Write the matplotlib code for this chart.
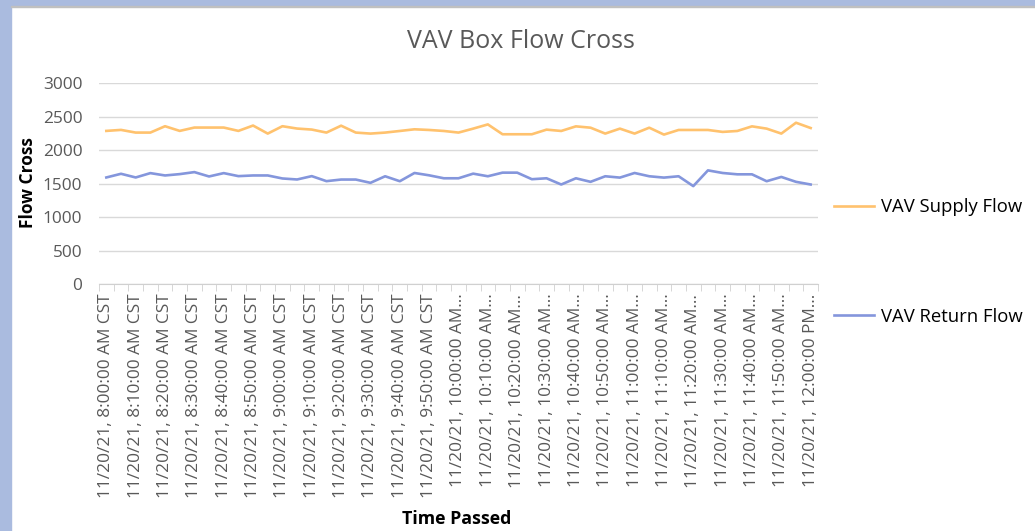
import numpy as np
import matplotlib.pyplot as plt
from matplotlib.patches import Rectangle

# readings every 5 minutes, 8:00 AM to 12:00 PM
supply_flow = [2285, 2300, 2260, 2260, 2355, 2285, 2335, 2335, 2335, 2285,
               2365, 2245, 2355, 2320, 2305, 2260, 2363, 2260, 2245, 2260,
               2284, 2309, 2299, 2284, 2260, 2319, 2382, 2235, 2235, 2235,
               2304, 2284, 2353, 2333, 2245, 2319, 2245, 2333, 2230, 2299,
               2299, 2299, 2270, 2284, 2353, 2319, 2245, 2407, 2328]
return_flow = [1590, 1645, 1590, 1655, 1620, 1640, 1670, 1605, 1655, 1610,
               1620, 1620, 1575, 1560, 1610, 1535, 1559, 1559, 1510, 1608,
               1534, 1657, 1622, 1578, 1578, 1647, 1608, 1662, 1662, 1564,
               1578, 1485, 1578, 1525, 1608, 1588, 1657, 1608, 1588, 1608,
               1461, 1696, 1657, 1637, 1637, 1534, 1598, 1525, 1485]

tick_labels = ['11/20/21, 8:00:00 AM CST', '11/20/21, 8:10:00 AM CST',
               '11/20/21, 8:20:00 AM CST', '11/20/21, 8:30:00 AM CST',
               '11/20/21, 8:40:00 AM CST', '11/20/21, 8:50:00 AM CST',
               '11/20/21, 9:00:00 AM CST', '11/20/21, 9:10:00 AM CST',
               '11/20/21, 9:20:00 AM CST', '11/20/21, 9:30:00 AM CST',
               '11/20/21, 9:40:00 AM CST', '11/20/21, 9:50:00 AM CST',
               '11/20/21, 10:00:00 AM...', '11/20/21, 10:10:00 AM...',
               '11/20/21, 10:20:00 AM...', '11/20/21, 10:30:00 AM...',
               '11/20/21, 10:40:00 AM...', '11/20/21, 10:50:00 AM...',
               '11/20/21, 11:00:00 AM...', '11/20/21, 11:10:00 AM...',
               '11/20/21, 11:20:00 AM...', '11/20/21, 11:30:00 AM...',
               '11/20/21, 11:40:00 AM...', '11/20/21, 11:50:00 AM...',
               '11/20/21, 12:00:00 PM...']

plt.rcParams['font.family'] = ['Open Sans', 'DejaVu Sans']

fig = plt.figure(figsize=(10.35, 5.31), dpi=100)
fig.patch.set_facecolor('white')
# light blue frame on the left and top
fig.add_artist(Rectangle((0, 0), 11 / 1035, 1, transform=fig.transFigure,
                         color='#aabbdf', zorder=0))
fig.add_artist(Rectangle((0, 1 - 6 / 531), 1, 6 / 531, transform=fig.transFigure,
                         color='#aabbdf', zorder=0))
fig.add_artist(Rectangle((11 / 1035, 1 - 7 / 531), 1, 1 / 531, transform=fig.transFigure,
                         color='#c0c0c0', zorder=0))

ax = fig.add_axes([99 / 1035, 1 - 284 / 531, (818 - 99) / 1035, (284 - 83) / 531])

x = np.arange(len(supply_flow))
ax.plot(x, supply_flow, color='#ffc26e', lw=1.9, label='VAV Supply Flow')
ax.plot(x, return_flow, color='#8496dc', lw=1.9, label='VAV Return Flow')

ax.set_xlim(-0.5, len(x) - 0.5)
ax.set_ylim(0, 3000)
ax.set_yticks(np.arange(0, 3001, 500))
ax.yaxis.grid(True, color='#d9d9d9', lw=1)
ax.set_axisbelow(True)
for s in ['top', 'right', 'left']:
    ax.spines[s].set_visible(False)
ax.spines['bottom'].set_color('#d0d0d0')

ax.set_xticks(x[::2])
ax.set_xticklabels(tick_labels, rotation=90)
ax.set_xticks(np.arange(len(x) + 1) - 0.5, minor=True)
ax.tick_params(axis='x', which='major', length=0, pad=7, labelsize=12.4, labelcolor='#595959')
ax.tick_params(axis='x', which='minor', length=5, color='#d0d0d0')
ax.tick_params(axis='y', length=0, pad=12, labelsize=12.4, labelcolor='#595959')

ax.set_ylabel('Flow Cross', fontsize=12.5, fontweight='bold')
ax.yaxis.set_label_coords(37 / 1035, 1 - 183 / 531, transform=fig.transFigure)
fig.text(457 / 1035, 1 - 519 / 531, 'Time Passed', ha='center', va='center',
         fontsize=12.8, fontweight='bold')
fig.text(521 / 1035, 1 - 42 / 531, 'VAV Box Flow Cross', ha='center', va='center',
         fontsize=18, color='#595959')

ax.legend(loc='center left', bbox_to_anchor=(817 / 1035, 1 - 262 / 531),
          bbox_transform=fig.transFigure, frameon=False, fontsize=13.3,
          labelspacing=4.95, handlelength=2.2, handletextpad=0.35)

fig.savefig('out.png', dpi=100)
